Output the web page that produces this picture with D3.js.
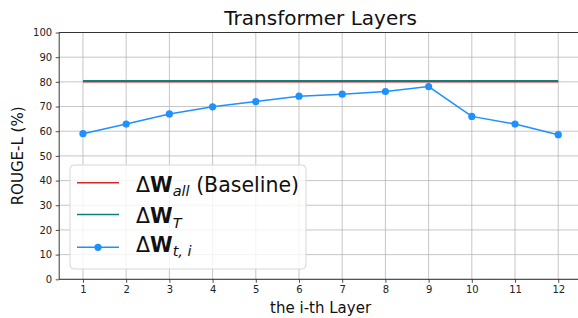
<!DOCTYPE html>
<html>
<head>
<meta charset="utf-8">
<script src="https://cdn.jsdelivr.net/npm/d3@7"></script>
<style>
	body { margin: 0; background: #fff; }
	text { font-family: "DejaVu Sans", sans-serif; }
</style>
</head>
<body>
<div id="chart"></div>
<script>
// data
const layers = [1, 2, 3, 4, 5, 6, 7, 8, 9, 10, 11, 12];
const baselineAll = [80, 80, 80, 80, 80, 80, 80, 80, 80, 80, 80, 80];
const allLayersT = [80.5, 80.5, 80.5, 80.5, 80.5, 80.5, 80.5, 80.5, 80.5, 80.5, 80.5, 80.5];
const perLayer = [59.0, 62.9, 67.0, 69.9, 72.0, 74.2, 75.0, 76.1, 78.1, 66.0, 62.9, 58.6];
const yTicks = [0, 10, 20, 30, 40, 50, 60, 70, 80, 90, 100];

const WIDTH = 578;
const HEIGHT = 318;
const margin = {left: 59.2, top: 32.5, right: -4, bottom: 38.7};
const AXIS_COLOR = '#222';
const GRID_COLOR = '#b0b0b0';
const TICK_SIZE = 3.5;

const svg = d3.select('#chart').append('svg')
	.attr('width', WIDTH)
	.attr('height', HEIGHT);

const x = d3.scaleLinear()
	.domain([0.45, 12.55])
	.range([margin.left, WIDTH - margin.right]);

const y = d3.scaleLinear()
	.domain([0, 100])
	.range([HEIGHT - margin.bottom, margin.top]);

// grid
const grid = svg.append('g').attr('class', 'grid')
	.attr('stroke', GRID_COLOR)
	.attr('stroke-width', 0.9)
	.attr('stroke-opacity', 0.8);
grid.selectAll('.gx').data(layers).join('line')
	.attr('x1', d => x(d)).attr('x2', d => x(d))
	.attr('y1', y(0)).attr('y2', y(100));
grid.selectAll('.gy').data(yTicks).join('line')
	.attr('x1', x.range()[0]).attr('x2', x.range()[1])
	.attr('y1', d => y(d)).attr('y2', d => y(d));

// axes
const xAxis = d3.axisBottom(x)
	.tickValues(layers)
	.tickFormat(d3.format('d'))
	.tickSize(TICK_SIZE)
	.tickSizeOuter(0)
	.tickPadding(3.5);

const yAxis = d3.axisLeft(y)
	.tickValues(yTicks)
	.tickSize(TICK_SIZE)
	.tickSizeOuter(0)
	.tickPadding(3.5);

const styleAxis = g => {
	g.select('.domain').remove();
	g.selectAll('line').attr('stroke', AXIS_COLOR).attr('stroke-width', 0.8);
	g.selectAll('text')
		.attr('fill', AXIS_COLOR)
		.style('font-family', '"DejaVu Sans", sans-serif')
		.style('font-size', '10px');
};

svg.append('g')
	.attr('transform', `translate(0,${y(0)})`)
	.call(xAxis)
	.call(styleAxis);

svg.append('g')
	.attr('transform', `translate(${x.range()[0]},0)`)
	.call(yAxis)
	.call(styleAxis);

// lines
const line = vals => d3.line()
	.x((d, i) => x(layers[i]))
	.y(d => y(d))(vals);

svg.append('path')
	.attr('d', line(baselineAll))
	.attr('fill', 'none')
	.attr('stroke', '#d62728')
	.attr('stroke-width', 1.5);

svg.append('path')
	.attr('d', line(allLayersT))
	.attr('fill', 'none')
	.attr('stroke', '#0f8080')
	.attr('stroke-width', 1.5);

svg.append('path')
	.attr('d', line(perLayer))
	.attr('fill', 'none')
	.attr('stroke', '#1e90ff')
	.attr('stroke-width', 1.5);

svg.append('g').selectAll('circle')
	.data(perLayer)
	.join('circle')
	.attr('cx', (d, i) => x(layers[i]))
	.attr('cy', d => y(d))
	.attr('r', 3.6)
	.attr('fill', '#1e90ff');

// spines
const spines = svg.append('g')
	.attr('stroke', AXIS_COLOR)
	.attr('stroke-width', 0.9);
spines.append('line')
	.attr('x1', x.range()[0]).attr('x2', x.range()[0])
	.attr('y1', y(0)).attr('y2', y(100));
spines.append('line')
	.attr('x1', x.range()[0]).attr('x2', x.range()[1])
	.attr('y1', y(0)).attr('y2', y(0));
spines.append('line')
	.attr('x1', x.range()[0]).attr('x2', x.range()[1])
	.attr('y1', y(100)).attr('y2', y(100));

// titles
const plotCenter = (x.range()[0] + x.range()[1]) / 2;
svg.append('text')
	.attr('x', plotCenter)
	.attr('y', 25)
	.attr('text-anchor', 'middle')
	.style('font-size', '20px')
	.attr('fill', '#111')
	.text('Transformer Layers');

svg.append('text')
	.attr('x', plotCenter)
	.attr('y', 313)
	.attr('text-anchor', 'middle')
	.style('font-size', '15px')
	.attr('fill', '#111')
	.text('the i-th Layer');

svg.append('text')
	.attr('transform', `translate(23,${(y(0) + y(100)) / 2}) rotate(-90)`)
	.attr('text-anchor', 'middle')
	.style('font-size', '15px')
	.attr('fill', '#111')
	.text('ROUGE-L (%)');

// legend
const legendItems = [
	{color: '#d62728', sub: 'all', tail: ' (Baseline)', marker: false},
	{color: '#0f8080', sub: 'T', tail: '', marker: false},
	{color: '#1e90ff', sub: 't, i', tail: '', marker: true}
];
const rowY = [182.7, 214.5, 247.3];
const baseY = [191.5, 223.3, 251.7];

const legend = svg.append('g').attr('class', 'legend');
legend.append('rect')
	.attr('x', 70).attr('y', 165)
	.attr('width', 236).attr('height', 104)
	.attr('rx', 4)
	.attr('fill', 'white')
	.attr('fill-opacity', 0.8)
	.attr('stroke', '#d6d6d6')
	.attr('stroke-width', 1);

legendItems.forEach((item, i) => {
	const g = legend.append('g');
	g.append('line')
		.attr('x1', 77).attr('x2', 119)
		.attr('y1', rowY[i]).attr('y2', rowY[i])
		.attr('stroke', item.color)
		.attr('stroke-width', 1.5);
	if (item.marker) {
		g.append('circle')
			.attr('cx', 98).attr('cy', rowY[i])
			.attr('r', 3.6)
			.attr('fill', item.color);
	}
	const t = g.append('text')
		.attr('x', 136)
		.attr('y', baseY[i])
		.style('font-size', '20.5px')
		.attr('fill', '#111');
	t.append('tspan').text('Δ');
	t.append('tspan').attr('font-weight', 'bold').text('W');
	t.append('tspan')
		.attr('font-style', 'italic')
		.attr('font-size', '14.5px')
		.attr('dy', 4.5)
		.text(item.sub);
	if (item.tail) {
		t.append('tspan').attr('dy', -4.5).text(item.tail);
	}
});
</script>
</body>
</html>
